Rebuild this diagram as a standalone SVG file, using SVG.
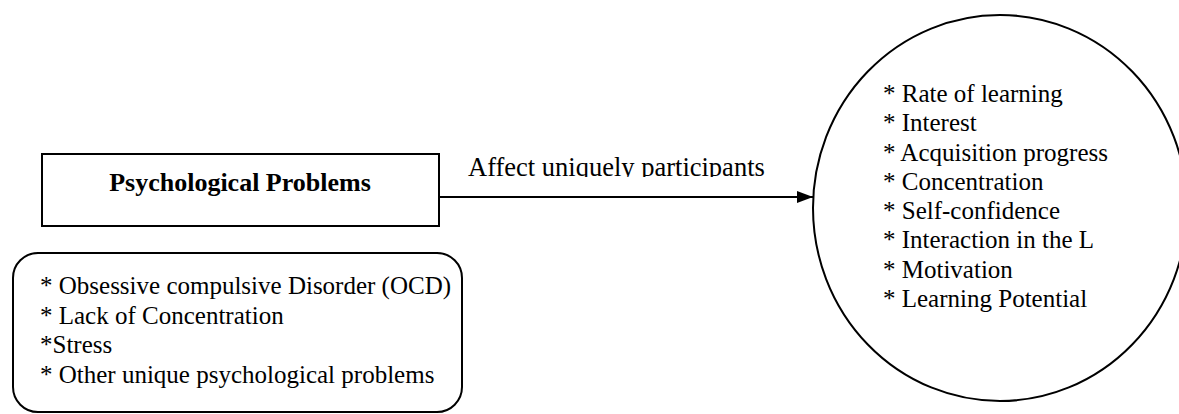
<svg xmlns="http://www.w3.org/2000/svg" width="1179" height="414" viewBox="0 0 1179 414">
<style>
.shape{fill:#fff;stroke:#000;stroke-width:2}
.t{font-family:"Liberation Serif","Times New Roman",serif;fill:#000}
.l{font-size:25px}
.b{font-size:26px;font-weight:bold}
.e{font-size:26.5px}
</style>
<defs>
<marker id="ah2" viewBox="0 0 16 12" refX="16" refY="6" markerWidth="16" markerHeight="12" markerUnits="userSpaceOnUse" orient="auto">
<path d="M0,0 L16,6 L0,12 z" fill="#000"/>
</marker>
<clipPath id="lblclip"><rect x="440" y="140" width="360" height="37"/></clipPath>
</defs>
<rect width="1179" height="414" fill="#fff"/>
<g id="connectors">
<line x1="439" y1="197" x2="813" y2="197" stroke="#000" stroke-width="2" marker-end="url(#ah2)"/>
<text class="t e" x="468" y="176" clip-path="url(#lblclip)">Affect uniquely participants</text>
</g>
<g id="node-psych">
<rect class="shape" x="42" y="154" width="397" height="72"/>
<text class="t b" x="240" y="191" text-anchor="middle">Psychological Problems</text>
</g>
<g id="node-list">
<rect class="shape" x="13" y="253" width="449" height="159" rx="25" ry="25"/>
<text class="t l" x="40" y="294">* Obsessive compulsive Disorder (OCD)</text>
<text class="t l" x="40" y="324">* Lack of Concentration</text>
<text class="t l" x="40" y="353">*Stress</text>
<text class="t l" x="40" y="383">* Other unique psychological problems</text>
</g>
<g id="node-effects">
<ellipse class="shape" cx="1000" cy="208" rx="187" ry="193"/>
<text class="t l" x="883" y="102">* Rate of learning</text>
<text class="t l" x="883" y="131">* Interest</text>
<text class="t l" x="883" y="161">* Acquisition progress</text>
<text class="t l" x="883" y="190">* Concentration</text>
<text class="t l" x="883" y="219">* Self-confidence</text>
<text class="t l" x="883" y="248">* Interaction in the L</text>
<text class="t l" x="883" y="278">* Motivation</text>
<text class="t l" x="883" y="307">* Learning Potential</text>
</g>
</svg>
